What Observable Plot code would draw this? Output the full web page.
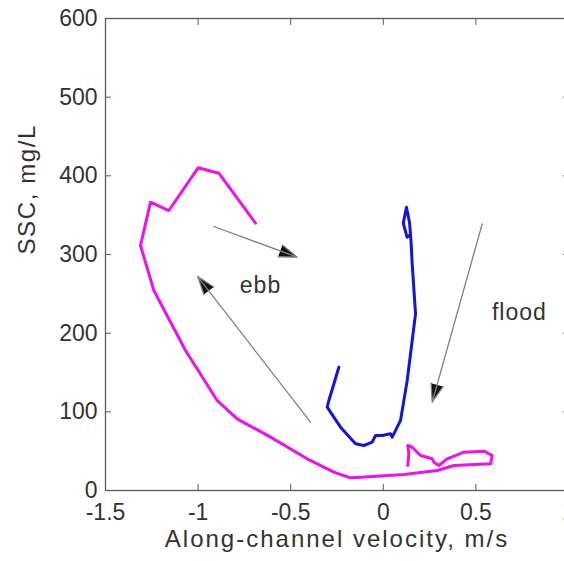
<!DOCTYPE html>
<html><head><meta charset="utf-8">
<script src="https://cdn.jsdelivr.net/npm/d3@7"></script>
<script src="https://cdn.jsdelivr.net/npm/@observablehq/plot@0.6"></script>
<style>html,body{margin:0;padding:0;overflow:hidden;background:#fff;width:564px;height:561px}svg{max-width:none!important}</style>
</head><body><div id="chart"></div><script>
// Magenta trace (velocity m/s, SSC mg/L)
const magentaX = [0.132,0.138,0.132,0.156,0.201,0.264,0.273,0.300,0.345,0.435,0.543,0.588,0.579,0.381,0.291,0.111,-0.123,-0.177,-0.267,-0.411,-0.609,-0.789,-0.897,-1.068,-1.239,-1.311,-1.257,-1.158,-1.0,-0.888,-0.69];
const magentaY = [31.8,46.6,57.2,55,44.5,40.3,36,31.8,40.3,48.7,50,44.5,33.9,31.8,25.4,20.3,16.9,16.1,23.3,40.3,67.8,91.1,114.4,178,254.2,311.4,366.5,355.9,410.2,403.3,339.8];
// Blue trace
const blueX = [-0.240,-0.294,-0.303,-0.231,-0.15,-0.105,-0.06,-0.042,-0.006,0.039,0.048,0.075,0.093,0.129,0.156,0.174,0.156,0.15,0.142,0.125,0.108,0.128,0.145];
const blueY = [156.7,114.4,105.9,80.5,59.4,57.2,61.4,69.9,69.9,72.1,67.8,80.5,89,139.8,190.7,224.6,288.2,315,340,360.1,340,322,325];
// Annotation arrows
const arrowX1 = [-0.915,-0.393,0.534];
const arrowY1 = [335.6,86.8,339];
const arrowX2 = [-0.465,-1.002,0.264];
const arrowY2 = [296.6,272,112.2];
// Annotation labels
const labelText = ["ebb","flood"];
const labelX = [-0.663,0.735];
const labelY = [260.6,226.6];
// Axes
const xTicks = [-1.5,-1,-0.5,0,0.5,1];
const yTicks = [0,100,200,300,400,500,600];
const xTitle = "Along-channel velocity, m/s";
const yTitle = "SSC, mg/L";

const font = "'Liberation Sans', Arial, Helvetica, sans-serif";
const fmt = d => String(d);
const axisCol = "#5a5a5a";

const svg = Plot.plot({
  width: 572, height: 561,
  marginLeft: 105, marginRight: 4, marginTop: 18, marginBottom: 71,
  style: {fontFamily: font, background: "#fff", overflow: "visible", maxWidth: "none"},
  x: {domain: [-1.5, 1]},
  y: {domain: [0, 600]},
  marks: [
    Plot.line(d3.range(magentaX.length), {x: magentaX, y: magentaY, stroke: "#ee11ee", strokeWidth: 3, strokeLinejoin: "round"}),
    Plot.line(d3.range(blueX.length), {x: blueX, y: blueY, stroke: "#1515d5", strokeWidth: 3, strokeLinejoin: "round"}),
    Plot.arrow(d3.range(arrowX1.length), {x1: arrowX1, y1: arrowY1, x2: arrowX2, y2: arrowY2, stroke: "#808080", fill: "#111", strokeWidth: 1.3, headLength: 22, headAngle: 38}),
    Plot.text(d3.range(labelText.length), {x: labelX, y: labelY, text: labelText, fontSize: 23, fill: "#333"}),
    Plot.frame({stroke: axisCol, strokeWidth: 1.3}),
    Plot.axisX({anchor: "bottom", ticks: xTicks, tickSize: -6, tickPadding: 19, tickFormat: fmt, fontSize: 23, color: "#333", stroke: axisCol, label: null}),
    Plot.axisX({anchor: "top", ticks: xTicks, tickSize: -6, tickFormat: () => "", stroke: axisCol, label: null}),
    Plot.axisY({anchor: "left", ticks: yTicks, tickSize: -6, tickPadding: 14, tickFormat: fmt, fontSize: 23, color: "#333", stroke: axisCol, label: null}),
    Plot.axisY({anchor: "right", ticks: yTicks, tickSize: -6, tickFormat: () => "", stroke: axisCol, label: null}),
    Plot.text([xTitle], {frameAnchor: "bottom", dy: 56, fontSize: 24, fill: "#333"}),
    Plot.text([yTitle], {frameAnchor: "left", dx: -78, rotate: -90, fontSize: 24, fill: "#333"})
  ]
});
svg.style.maxWidth = "none";
d3.select(svg).selectAll("text").filter(function(){ return this.textContent === xTitle; }).attr("letter-spacing", 2);
d3.select(svg).selectAll("text").filter(function(){ return this.textContent === yTitle; }).attr("letter-spacing", 1.6);
d3.select(svg).selectAll("text").filter(function(){ return labelText.includes(this.textContent); }).attr("letter-spacing", 1);
document.getElementById("chart").appendChild(svg);
</script></body></html>
